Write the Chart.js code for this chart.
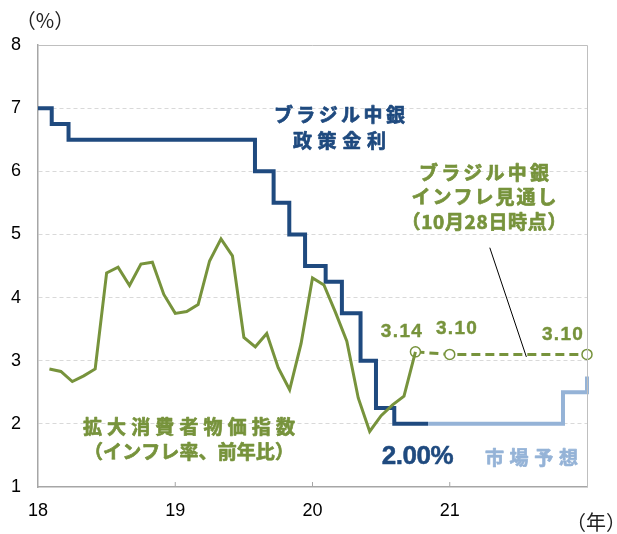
<!DOCTYPE html>
<html>
<head>
<meta charset="utf-8">
<script src="https://cdn.jsdelivr.net/npm/chart.js@4/dist/chart.umd.min.js"></script>
<style>
  html, body { margin: 0; padding: 0; background: #fff; }
  #wrap { width: 617px; height: 534px; }
</style>
</head>
<body>
<div id="wrap"><canvas id="chart" width="617" height="534"></canvas></div>
<script>
// x = meses desde enero 2018
const yearLabels = ["18", "19", "20", "21"];

// IPCA (inflación, interanual), feb-2018 .. oct-2020 en la escala
const cpiValues = [2.87, 2.83, 2.67, 2.76, 2.87, 4.39, 4.48, 4.19, 4.53, 4.56, 4.05, 3.75,
  3.78, 3.89, 4.58, 4.93, 4.66, 3.37, 3.22, 3.43, 2.89, 2.54, 3.27, 4.31,
  4.20, 3.77, 3.31, 2.41, 1.88, 2.13, 2.30, 2.44, 3.14];

// Previsión del banco central (28 oct)
const forecastMonths = [33, 36, 48];
const forecastValues = [3.14, 3.10, 3.10];

// Tasa Selic: mes del cambio y nuevo valor
const rateMonths = [0, 1.2, 2.67, 18.97, 20.6, 21.97, 23.35, 25.15, 26.57, 28.2, 29.55, 31.15, 34.1];
const rateValues = [7.0, 6.75, 6.5, 6.0, 5.5, 5.0, 4.5, 4.25, 3.75, 3.0, 2.25, 2.0, 2.0];

// Expectativa del mercado
const marketMonths = [34.1, 45.9, 48, 48];
const marketValues = [2.0, 2.5, 2.5, 2.75];

const DARK = "#1F4A7F";
const GREEN = "#77933C";
const LIGHT = "#95B3D7";
const JP = "'Noto Sans CJK JP', sans-serif";

const toPoints = (xs, ys) => xs.map((x, i) => ({ x, y: ys[i] }));

// texto centrado con ancho dado (espaciado entre letras), con trazo opcional
const drawSpaced = (ctx, text, cx, cy, width, stroke) => {
  ctx.letterSpacing = "0px";
  const w = ctx.measureText(text).width;
  const n = [...text].length;
  const ls = n > 1 ? (width - w) / (n - 1) : 0;
  ctx.letterSpacing = ls + "px";
  ctx.textAlign = "left";
  ctx.textBaseline = "middle";
  ctx.fillText(text, cx - width / 2, cy);
  if (stroke) {
    ctx.strokeStyle = ctx.fillStyle;
    ctx.lineWidth = stroke;
    ctx.lineJoin = "round";
    ctx.strokeText(text, cx - width / 2, cy);
  }
  ctx.letterSpacing = "0px";
};

const labelsPlugin = {
  id: "labels",
  afterDraw(chart) {
    const { ctx, chartArea, scales } = chart;
    const X = (v) => scales.x.getPixelForValue(v);
    const Y = (v) => scales.y.getPixelForValue(v);
    ctx.save();

    // marco superior y derecho
    ctx.strokeStyle = "#bfbfbf";
    ctx.lineWidth = 1;
    ctx.beginPath();
    ctx.moveTo(chartArea.left, chartArea.top + 0.5);
    ctx.lineTo(chartArea.right + 0.5, chartArea.top + 0.5);
    ctx.lineTo(chartArea.right + 0.5, chartArea.bottom);
    ctx.stroke();

    // marcas internas del eje x
    ctx.strokeStyle = "#a6a6a6";
    ctx.lineWidth = 1;
    [12, 24, 36].forEach((m) => {
      ctx.beginPath();
      ctx.moveTo(X(m), chartArea.bottom - 5);
      ctx.lineTo(X(m), chartArea.bottom);
      ctx.stroke();
    });

    // línea guía hacia la previsión
    ctx.strokeStyle = "#000";
    ctx.lineWidth = 1;
    ctx.beginPath();
    ctx.moveTo(X(39.5), Y(4.79));
    ctx.lineTo(X(42.7), Y(3.06));
    ctx.stroke();

    // unidades
    ctx.fillStyle = "#222";
    ctx.font = "20px " + JP;
    ctx.textAlign = "center";
    ctx.textBaseline = "middle";
    ctx.fillText("（%）", 45, 20);
    ctx.fillText("（年）", 596, 522);

    // rótulos
    ctx.font = "bold 19px " + JP;
    ctx.fillStyle = DARK;
    drawSpaced(ctx, "ブラジル中銀", X(26.35), Y(6.9), 131, 0.7);
    drawSpaced(ctx, "政策金利", X(26.35), Y(6.48), 93, 0.7);

    ctx.fillStyle = GREEN;
    drawSpaced(ctx, "ブラジル中銀", X(38.99), Y(5.98), 130, 0.7);
    drawSpaced(ctx, "インフレ見通し", X(38.99), Y(5.6), 145, 0.7);
    drawSpaced(ctx, "（10月28日時点）", X(38.99), Y(5.2), 165, 0.7);

    drawSpaced(ctx, "拡大消費者物価指数", X(13.2), Y(1.96), 212, 0.7);
    drawSpaced(ctx, "（インフレ率、前年比）", X(13.2), Y(1.55), 210, 0.7);

    ctx.fillStyle = LIGHT;
    drawSpaced(ctx, "市場予想", X(43.14), Y(1.46), 93, 0.7);

    ctx.fillStyle = DARK;
    ctx.font = "bold 26px Arial, 'Liberation Sans', sans-serif";
    drawSpaced(ctx, rateValues[rateValues.length - 1].toFixed(2) + "%", X(33.2), Y(1.47), 72, 0.5);

    // valores de la previsión
    ctx.fillStyle = GREEN;
    ctx.font = "bold 19px Arial, 'Liberation Sans', sans-serif";
    const valPos = [[31.77, 3.46], [36.58, 3.5], [45.85, 3.41]];
    forecastValues.forEach((v, i) => {
      drawSpaced(ctx, v.toFixed(2), X(valPos[i][0]), Y(valPos[i][1]), 41, 0.4);
    });

    ctx.restore();
  },
};

const ctx = document.getElementById("chart").getContext("2d");

new Chart(ctx, {
  type: "line",
  data: {
    datasets: [
      {
        // IPCA, encima de todo
        data: cpiValues.map((v, i) => ({ x: i + 1, y: v })),
        borderColor: GREEN,
        borderWidth: 3,
        pointRadius: 0,
        borderJoinStyle: "miter",
      },
      {
        data: toPoints(forecastMonths, forecastValues),
        borderColor: GREEN,
        borderWidth: 3,
        borderDash: [9, 5],
        pointRadius: 5,
        pointBackgroundColor: "#fff",
        pointBorderColor: GREEN,
        pointBorderWidth: 1.5,
        clip: false,
      },
      {
        data: toPoints(rateMonths, rateValues),
        borderColor: DARK,
        borderWidth: 4,
        pointRadius: 0,
        stepped: true,
        borderJoinStyle: "miter",
      },
      {
        data: toPoints(marketMonths, marketValues),
        borderColor: LIGHT,
        borderWidth: 4,
        pointRadius: 0,
        stepped: true,
        borderJoinStyle: "miter",
        clip: false,
      },
    ],
  },
  options: {
    responsive: false,
    animation: false,
    layout: { padding: { top: 45, right: 30, left: 0, bottom: 0 } },
    plugins: { legend: { display: false }, tooltip: { enabled: false } },
    scales: {
      x: {
        type: "linear",
        min: 0,
        max: 48,
        afterFit: (s) => { s.height = 47; },
        grid: { display: false, drawTicks: false },
        border: { color: "#a6a6a6", width: 1.5 },
        ticks: {
          stepSize: 12,
          padding: 13,
          color: "#000",
          maxRotation: 0,
          font: { family: "Arial, 'Liberation Sans', sans-serif", size: 18 },
          callback: (v) => yearLabels[v / 12] || "",
        },
      },
      y: {
        min: 1,
        max: 8,
        afterFit: (s) => { s.width = 38; },
        grid: {
          drawTicks: false,
          color: (c) => (c.tick && (c.tick.value === 1 || c.tick.value === 8) ? "rgba(0,0,0,0)" : "#d9d9d9"),
        },
        border: { color: "#a6a6a6", width: 1.5, dash: [4, 3] },
        ticks: {
          stepSize: 1,
          padding: 17,
          color: "#000",
          font: { family: "Arial, 'Liberation Sans', sans-serif", size: 18 },
        },
      },
    },
  },
  plugins: [labelsPlugin],
});
</script>
</body>
</html>
